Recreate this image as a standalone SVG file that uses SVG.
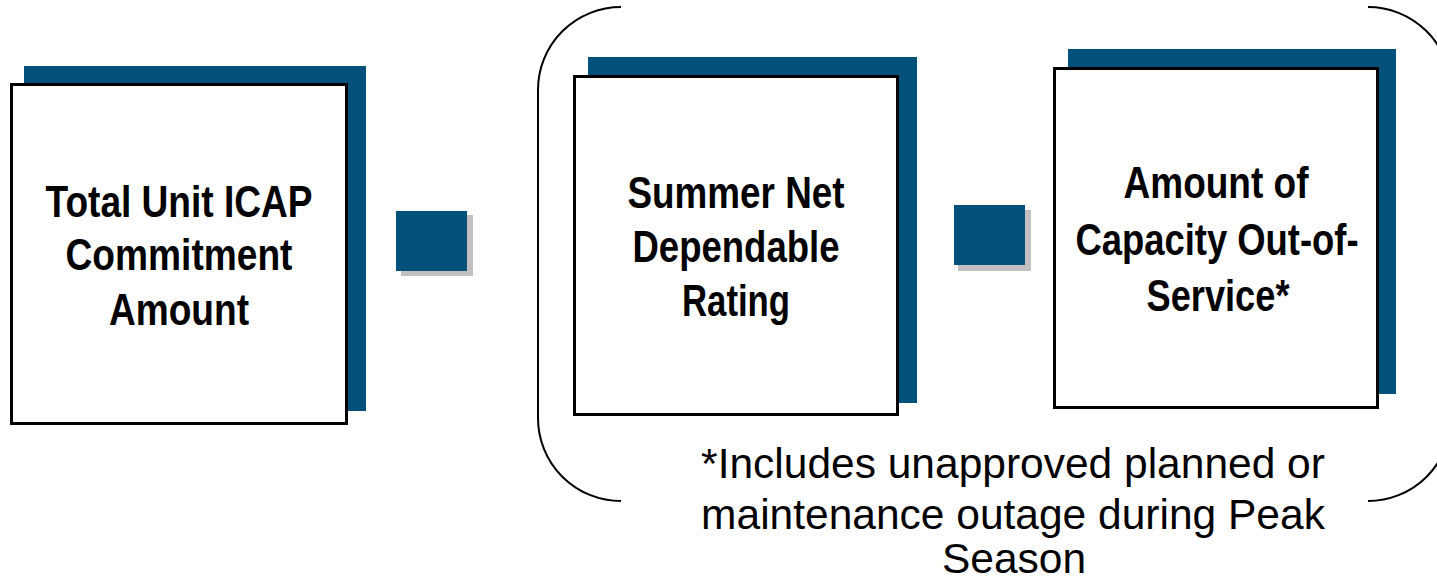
<svg xmlns="http://www.w3.org/2000/svg" width="1437" height="583" viewBox="0 0 1437 583">
  <style>
    .shadow { fill: #02517a; }
    .card { fill: #ffffff; stroke: #000000; stroke-width: 3; }
    .op { fill: #02517a; }
    .op-shadow { fill: #c0c0c0; }
    .label { font-family: "Liberation Sans Narrow", "Liberation Sans", Arial, sans-serif; font-weight: bold; font-size: 44px; fill: #000000; text-anchor: middle; }
    .note { font-family: "Liberation Sans", Arial, sans-serif; font-size: 42.5px; fill: #000000; text-anchor: middle; }
    .brace { fill: none; stroke: #000000; stroke-width: 2; }
  </style>

  <rect width="1437" height="583" fill="#ffffff"/>

  <!-- total unit ICAP commitment -->
  <g id="node-total-icap">
    <rect class="shadow" x="24" y="66" width="342" height="345"/>
    <rect class="card" x="11.5" y="84.5" width="335" height="339"/>
    <text class="label" x="179" y="217" textLength="267" lengthAdjust="spacingAndGlyphs">Total Unit ICAP</text>
    <text class="label" x="179" y="270" textLength="227" lengthAdjust="spacingAndGlyphs">Commitment</text>
    <text class="label" x="179" y="325" textLength="140" lengthAdjust="spacingAndGlyphs">Amount</text>
  </g>

  <!-- equals operator -->
  <g id="node-op-equals">
    <rect class="op-shadow" x="401" y="215" width="72" height="61"/>
    <rect class="op" x="396" y="211" width="71" height="60"/>
  </g>

  <!-- summer net dependable rating -->
  <g id="node-summer-ndr">
    <rect class="shadow" x="588" y="57" width="329" height="346"/>
    <rect class="card" x="574.5" y="76.5" width="323" height="338"/>
    <text class="label" x="736" y="208" textLength="217" lengthAdjust="spacingAndGlyphs">Summer Net</text>
    <text class="label" x="736" y="262" textLength="207" lengthAdjust="spacingAndGlyphs">Dependable</text>
    <text class="label" x="736" y="316" textLength="108" lengthAdjust="spacingAndGlyphs">Rating</text>
  </g>

  <!-- minus operator -->
  <g id="node-op-minus">
    <rect class="op-shadow" x="958" y="210" width="73" height="61"/>
    <rect class="op" x="954" y="205" width="71" height="60"/>
  </g>

  <!-- capacity out of service -->
  <g id="node-out-of-service">
    <rect class="shadow" x="1068" y="49" width="328" height="345"/>
    <rect class="card" x="1054.5" y="68.5" width="323" height="339"/>
    <text class="label" x="1216" y="198" textLength="185" lengthAdjust="spacingAndGlyphs">Amount of</text>
    <text class="label" x="1217" y="255" textLength="283" lengthAdjust="spacingAndGlyphs">Capacity Out-of-</text>
    <text class="label" x="1218" y="311" textLength="143" lengthAdjust="spacingAndGlyphs">Service*</text>
  </g>

  <!-- grouping bracket around the subtraction -->
  <g id="connectors">
    <path class="brace" d="M 621 7 A 83 83 0 0 0 538 90 L 538 418 A 83 83 0 0 0 621 501"/>
    <path class="brace" d="M 1368 7 A 83 83 0 0 1 1451 90 L 1451 418 A 83 83 0 0 1 1368 501"/>
  </g>

  <!-- footnote -->
  <g id="footnote">
    <text class="note" x="1013" y="478">*Includes unapproved planned or</text>
    <text class="note" x="1013" y="529">maintenance outage during Peak</text>
    <text class="note" x="1014" y="573">Season</text>
  </g>
</svg>
